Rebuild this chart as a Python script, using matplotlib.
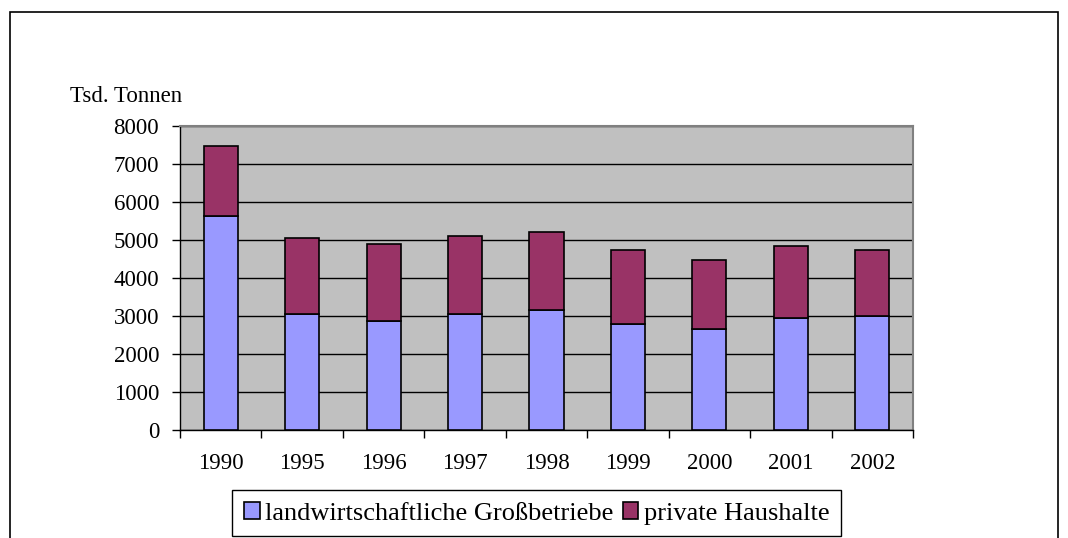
import matplotlib
matplotlib.use("Agg")
import matplotlib.pyplot as plt
from matplotlib.patches import Rectangle
import numpy as np

years = ["1990", "1995", "1996", "1997", "1998", "1999", "2000", "2001", "2002"]
grossbetriebe = [5620, 3050, 2880, 3050, 3150, 2780, 2670, 2940, 2990]
totals = [7470, 5050, 4890, 5100, 5200, 4740, 4480, 4840, 4740]
haushalte = [t - g for t, g in zip(totals, grossbetriebe)]
yticks = [0, 1000, 2000, 3000, 4000, 5000, 6000, 7000, 8000]

plt.rcParams['font.family'] = ['Liberation Serif', 'DejaVu Serif']

W, H = 1068, 538
fig = plt.figure(figsize=(W / 100, H / 100), dpi=100)
fig.patch.set_facecolor('white')

# outer chart frame
fig.add_artist(Rectangle((10 / W, -0.05), 1048 / W, 1 - 12 / H + 0.05,
                         transform=fig.transFigure, fill=False,
                         edgecolor='black', linewidth=1.2))

ax = fig.add_axes([180 / W, 1 - 430 / H, 733 / W, 304 / H])
ax.set_facecolor('#C0C0C0')

x = np.arange(len(years))
bw = 0.42
ax.bar(x, grossbetriebe, bw, color='#9999FF', edgecolor='black', linewidth=1.2,
       label='landwirtschaftliche Großbetriebe', zorder=3)
ax.bar(x, haushalte, bw, bottom=grossbetriebe, color='#993366', edgecolor='black',
       linewidth=1.2, label='private Haushalte', zorder=3)

ax.set_xlim(-0.5, len(years) - 0.5)
ax.set_ylim(0, 8000)
ax.set_yticks(yticks)
ax.set_yticklabels([str(v) for v in yticks])
ax.yaxis.grid(True, color='black', linewidth=1.0, zorder=1)
ax.set_axisbelow(True)

ax.set_xticks(x)
ax.set_xticklabels(years)
ax.set_xticks(np.arange(-0.5, len(years), 1.0), minor=True)
ax.tick_params(axis='x', which='major', length=0, pad=16.5, labelsize=16.5)
ax.tick_params(axis='x', which='minor', length=6, width=1, direction='out', color='black')
ax.tick_params(axis='y', which='major', length=6, width=1, direction='out', pad=9, labelsize=16.5)

for side in ['top', 'right']:
    ax.spines[side].set_color('#808080')
    ax.spines[side].set_linewidth(1.5)
for side in ['left', 'bottom']:
    ax.spines[side].set_color('black')
    ax.spines[side].set_linewidth(1.0)

fig.text(70 / W, 1 - 97 / H, 'Tsd. Tonnen', fontsize=16.5, va='center', ha='left')

leg = fig.legend(loc='upper left', bbox_to_anchor=(232 / W, 1 - 490 / H), ncol=2,
                 fontsize=19, frameon=True, fancybox=False, edgecolor='black',
                 framealpha=1, handlelength=0.6, handleheight=0.6, handletextpad=0.2,
                 columnspacing=0.35, borderpad=0.45, borderaxespad=0)
leg.get_frame().set_linewidth(1.0)

fig.savefig('out.png', dpi=100)
